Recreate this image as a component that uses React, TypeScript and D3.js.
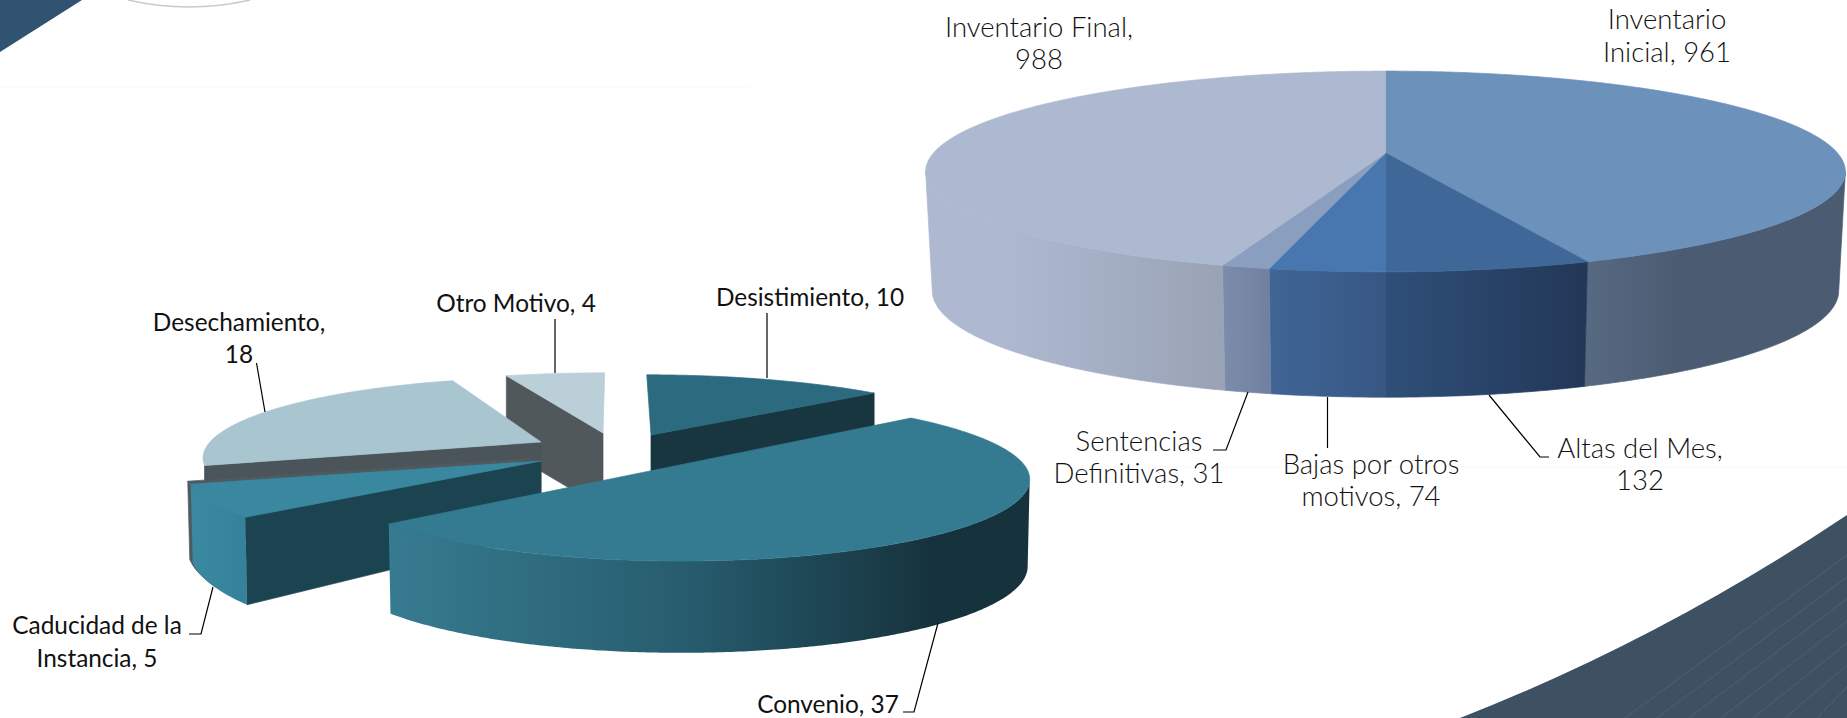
import React from "react";
import * as d3 from "d3";

// ---------- data ----------
const leftCategories = ["Desistimiento", "Convenio", "Caducidad de la Instancia", "Desechamiento", "Otro Motivo"];
const leftValues = [10, 37, 5, 18, 4];
const rightCategories = ["Inventario Inicial", "Altas del Mes", "Bajas por otros motivos", "Sentencias Definitivas", "Inventario Final"];
const rightValues = [961, 132, 74, 31, 988];

// ---------- geometry (perspective projection of each disc) ----------
type Disc = { cx: number; ay: number; R: number; A: number; skew?: number };
type SliceGeom = { c: number; top: Disc; bottom: Disc };
const leftGeom: SliceGeom[] = [
  { c: -0.18, top: { cx: 651, ay: 435, R: 337, A: 71, skew: 5 }, bottom: { cx: 651, ay: 520, R: 337, A: 71, skew: 5 } },
  { c: -0.18, top: { cx: 681, ay: 464.7, R: 343, A: 79 }, bottom: { cx: 681, ay: 551, R: 341, A: 83.5 } },
  { c: -0.18, top: { cx: 541, ay: 461, R: 347, A: 75 }, bottom: { cx: 541, ay: 533, R: 345, A: 95.7 } },
  { c: -0.18, top: { cx: 541, ay: 442, R: 331, A: 76, skew: -7.5 }, bottom: { cx: 541, ay: 518, R: 331, A: 76, skew: -7.5 } },
  { c: -0.18, top: { cx: 603, ay: 433, R: 345, A: 71, skew: -2 }, bottom: { cx: 603, ay: 508, R: 345, A: 71, skew: -2 } },
];
const rightGeom: SliceGeom = {
  c: -0.184,
  top: { cx: 1385.5, ay: 153, R: 452, A: 97 },
  bottom: { cx: 1385.5, ay: 271, R: 445.5, A: 103 },
};

const project = (d: Disc, c: number, th: number): [number, number] => {
  const t = -Math.cos(th);
  const den = 1 + c * t;
  return [d.cx + (d.R * Math.sin(th) + (d.skew ?? 0) * t) / den, d.ay + (d.A * t) / den];
};
const line = d3.line<[number, number]>();
const rim = (d: Disc, c: number, a0: number, a1: number) => {
  const n = Math.max(2, Math.ceil(Math.abs(a1 - a0) / 0.01));
  return d3.range(n + 1).map((i) => project(d, c, a0 + ((a1 - a0) * i) / n));
};
const topPath = (g: SliceGeom, a0: number, a1: number) =>
  line([[g.top.cx, g.top.ay], ...rim(g.top, g.c, a0, a1)]) + "Z";
const wallPath = (g: SliceGeom, a0: number, a1: number) => {
  const lim0 = Math.acos(g.c);
  const lim1 = 2 * Math.PI - lim0;
  const s = Math.max(a0, lim0);
  const e = Math.min(a1, lim1);
  if (e <= s) return "";
  return line([...rim(g.top, g.c, s, e), ...rim(g.bottom, g.c, e, s)]) + "Z";
};
const facePath = (g: SliceGeom, a: number) =>
  line([
    [g.top.cx, g.top.ay],
    project(g.top, g.c, a),
    project(g.bottom, g.c, a),
    [g.bottom.cx, g.bottom.ay],
  ]) + "Z";

const pie = d3.pie<number>().sort(null).value((v) => v);
const leftArcs = pie(leftValues);
const rightArcs = pie(rightValues);

// ---------- styles ----------
const rightTop = ["#6c92bb", "#3f6899", "#4876ae", "#8a9fc0", "#adb9d0"];
const rightWall = [
  ["#566980", "#4b5b72"],
  ["#2f4f78", "#223858"],
  ["#3f6596", "#375783"],
  ["#7c8dac", "#71809e"],
  ["#aeb9d1", "#9aa3b5"],
];
const rightGrad: [number, number][] = [
  [1590, 1680],
  [1385, 1584],
  [1270, 1385],
  [1220, 1270],
  [1000, 1220],
];

type Lab = { lines: string[]; x: number; y: number[] };
const rightLabels: Lab[] = [
  { lines: ["Inventario", "Inicial, 961"], x: 1667, y: [29, 62] },
  { lines: ["Altas del Mes,", "132"], x: 1640, y: [458, 490] },
  { lines: ["Bajas por otros", "motivos, 74"], x: 1371, y: [474, 506] },
  { lines: ["Sentencias", "Definitivas, 31"], x: 1139, y: [451, 483] },
  { lines: ["Inventario Final,", "988"], x: 1039, y: [37, 69] },
];
const leftLabels: Lab[] = [
  { lines: ["Desistimiento, 10"], x: 810, y: [306] },
  { lines: ["Convenio, 37"], x: 828, y: [713] },
  { lines: ["Caducidad de la", "Instancia, 5"], x: 97, y: [634, 667] },
  { lines: ["Desechamiento,", "18"], x: 239, y: [331, 363] },
  { lines: ["Otro Motivo, 4"], x: 516, y: [312] },
];
const leaders: [number, number][][] = [
  [[1489, 395], [1540, 457], [1549, 457]],
  [[1327.5, 397], [1327.5, 448]],
  [[1248, 392], [1226, 450], [1213, 450]],
  [[555, 319], [555, 373]],
  [[767, 313], [767, 378]],
  [[256.5, 363], [265, 412]],
  [[213, 587], [201, 634], [189, 634]],
  [[938, 623], [914, 712], [903, 712]],
];

const stripes = d3.range(8);

const Solid = ({ d, fill }: { d: string; fill: string }) => (
  <path d={d} fill={fill} stroke={fill} strokeWidth={0.7} strokeLinejoin="round" />
);

export default function App() {
  const [desi, conv, cadu, dese, otro] = leftArcs;
  const G = leftGeom;
  return (
    <svg
      width={1847}
      height={718}
      viewBox="0 0 1847 718"
      style={{ position: "absolute", left: 0, top: 0, display: "block", background: "#fff" }}
    >
      <defs>
        {rightWall.map((w, i) => (
          <linearGradient key={i} id={`rw${i}`} gradientUnits="userSpaceOnUse" x1={rightGrad[i][0]} x2={rightGrad[i][1]} y1={0} y2={0}>
            <stop offset="0" stopColor={w[0]} />
            <stop offset="1" stopColor={w[1]} />
          </linearGradient>
        ))}
        <linearGradient id="conv" gradientUnits="userSpaceOnUse" x1={390} x2={930} y1={0} y2={0}>
          <stop offset="0" stopColor="#377b90" />
          <stop offset="0.55" stopColor="#275c6e" />
          <stop offset="1" stopColor="#16333d" />
        </linearGradient>
        <linearGradient id="cadu" gradientUnits="userSpaceOnUse" x1={192} x2={250} y1={0} y2={0}>
          <stop offset="0" stopColor="#3a89a1" />
          <stop offset="1" stopColor="#35809a" />
        </linearGradient>
      </defs>

      {/* background decoration */}
      <line x1={0} x2={750} y1={87} y2={87} stroke="#fafafa" />
      <line x1={1100} x2={1847} y1={467} y2={467} stroke="#f9f9f9" />
      <path d="M0,0 L82,0 L0,52 Z" fill="#2f5370" />
      <path d="M128,0 Q189,14 250,0" fill="none" stroke="#c9c9c9" strokeWidth={1.5} />
      <path d="M1460,718 Q1660,640 1847,515 L1847,718 Z" fill="#3d5163" />
      {stripes.map((i) => (
        <line key={i} x1={1625 + i * 32} y1={718} x2={1847} y2={555 + i * 22} stroke="#4d6274" strokeWidth={1} />
      ))}

      {/* left pie, exploded */}
      <Solid d={facePath(G[4], otro.startAngle)} fill="#50585c" />
      <Solid d={topPath(G[4], otro.startAngle, otro.endAngle)} fill="#bacfd8" />
      <Solid d={facePath(G[0], desi.endAngle)} fill="#17363f" />
      <Solid d={topPath(G[0], desi.startAngle, desi.endAngle)} fill="#2c6b7f" />
      <Solid d={facePath(G[3], dese.startAngle)} fill="#4a5459" />
      <Solid d={topPath(G[3], dese.startAngle, dese.endAngle)} fill="#a8c5d0" />
      <g transform="translate(-3,-3)">
        <Solid d={wallPath(G[2], cadu.startAngle, cadu.endAngle)} fill="#4f5a60" />
        <Solid d={topPath(G[2], cadu.startAngle, cadu.endAngle)} fill="#4f5a60" />
      </g>
      <Solid d={facePath(G[2], cadu.startAngle)} fill="#1c4350" />
      <path d={wallPath(G[2], cadu.startAngle, cadu.endAngle)} fill="url(#cadu)" />
      <Solid d={topPath(G[2], cadu.startAngle, cadu.endAngle)} fill="#3a88a0" />
      <path d={wallPath(G[1], conv.startAngle, conv.endAngle)} fill="url(#conv)" />
      <Solid d={topPath(G[1], conv.startAngle, conv.endAngle)} fill="#347b91" />

      {/* right pie */}
      {rightArcs.map((a, i) => (
        <path key={"w" + i} d={wallPath(rightGeom, a.startAngle, a.endAngle)} fill={`url(#rw${i})`} stroke={`url(#rw${i})`} strokeWidth={0.7} />
      ))}
      {rightArcs.map((a, i) => (
        <Solid key={"t" + i} d={topPath(rightGeom, a.startAngle, a.endAngle)} fill={rightTop[i]} />
      ))}

      {/* leaders */}
      {leaders.map((pts, i) => (
        <path key={i} d={line(pts) as string} fill="none" stroke="#000" strokeWidth={1.2} />
      ))}

      {/* labels */}
      <g fontFamily="Lato, 'Open Sans', sans-serif" fontWeight={300} fontSize={27.5} fill="#111" textAnchor="middle">
        {rightLabels.map((l, i) =>
          l.lines.map((s, j) => (
            <text key={i + "-" + j} x={l.x} y={l.y[j]} aria-label={rightCategories[i]}>
              {s}
            </text>
          )),
        )}
      </g>
      <g fontFamily="Lato, sans-serif" fontSize={24.4} fill="#111" textAnchor="middle">
        {leftLabels.map((l, i) =>
          l.lines.map((s, j) => (
            <text key={i + "-" + j} x={l.x} y={l.y[j]} aria-label={leftCategories[i]}>
              {s}
            </text>
          )),
        )}
      </g>
    </svg>
  );
}
